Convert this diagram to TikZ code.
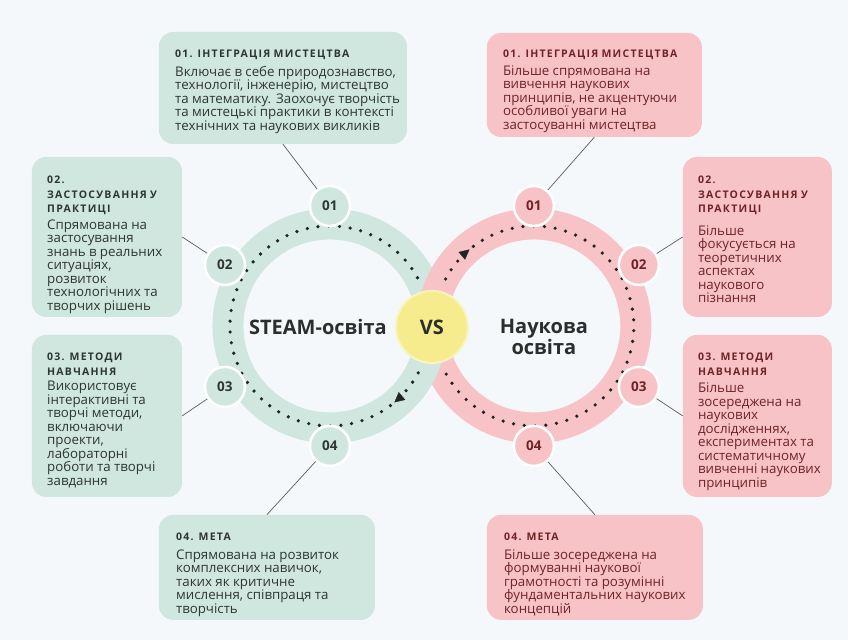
\documentclass[tikz,border=0pt]{standalone}
\usepackage{fontspec}
\setmainfont{Open Sans}
\usetikzlibrary{arrows.meta,decorations.markings}

\definecolor{bgcol}{HTML}{F4F8FA}
\definecolor{mint}{HTML}{CFE7DE}
\definecolor{rose}{HTML}{F8C3C6}
\definecolor{mintink}{HTML}{2E3532}
\definecolor{roseink}{HTML}{6E2328}
\definecolor{titleink}{HTML}{2A2F2D}
\definecolor{sun}{HTML}{F6EC8D}
\definecolor{sunrim}{HTML}{FAF4BE}
\definecolor{linkgray}{HTML}{5C5C5C}
\definecolor{dotcol}{HTML}{1F2523}

\newcommand{\hdr}{\fontsize{10.5}{14.5}\selectfont\bfseries\addfontfeature{LetterSpace=12}}
\newcommand{\bdy}{\fontsize{13.3}{13.5}\selectfont}
\newcommand{\cardtext}[3][6pt]{{\hdr #2\par}\vspace{#1}{\bdy #3\par}}

\begin{document}
\begin{tikzpicture}[x=1pt,y=-1pt,
  gbox/.style={rectangle, rounded corners=14pt, fill=mint, inner sep=0pt},
  pbox/.style={rectangle, rounded corners=14pt, fill=rose, inner sep=0pt},
  gtxt/.style={anchor=base west, inner sep=0pt, align=left, text=mintink},
  ptxt/.style={anchor=base west, inner sep=0pt, align=left, text=roseink},
  gbadge/.style={circle, minimum size=40pt, inner sep=0pt, fill=mint, draw=white, line width=2.5pt, text=mintink, font=\fontsize{13.5}{13.5}\selectfont\bfseries},
  pbadge/.style={gbadge, fill=rose, text=roseink},
  link/.style={draw=linkgray, line width=0.7pt},
  dots/.style={dotcol, line width=3.6pt, line cap=round, dash pattern=on 0pt off 10.8pt},
  tip/.style={decorate, decoration={markings, mark=at position 0.072 with {\arrow[dotcol]{Triangle[length=10pt,width=10pt]}}}},
  title/.style={text=titleink, font=\fontsize{20}{21}\selectfont\bfseries}]

\path[fill=bgcol] (0,0) rectangle (848,640);

\coordinate (lc) at (330,326);
\coordinate (rc) at (534,326);

% rings
\draw[mint, line width=31pt] (lc) circle[radius=102];
\draw[rose, line width=31pt] (rc) circle[radius=102];
\draw[mint, line width=31pt] (lc) ++(10:102) arc[start angle=10, end angle=40, radius=102];

\draw[dots] (lc) ++(28:100) arc[start angle=28, end angle=332, radius=100];
\path[tip] (lc) ++(28:100) arc[start angle=28, end angle=332, radius=100];
\draw[dots] (rc) ++(-152:100) arc[start angle=-152, end angle=152, radius=100];
\path[tip] (rc) ++(-152:100) arc[start angle=-152, end angle=152, radius=100];

\node[gbadge] (gb1) at (330,206) {01};
\node[gbadge] (gb2) at (225,265) {02};
\node[gbadge] (gb3) at (225,387) {03};
\node[gbadge] (gb4) at (330,446) {04};
\node[pbadge] (pb1) at (534,206) {01};
\node[pbadge] (pb2) at (639,265) {02};
\node[pbadge] (pb3) at (639,387) {03};
\node[pbadge] (pb4) at (534,446) {04};

\node[circle, minimum size=72pt, fill=sun, draw=sunrim, line width=2pt, text=titleink, font=\fontsize{20}{20}\selectfont\bfseries] (vs) at (432,327) {VS};

\node[title] (steam) at (318,327) {STEAM-освіта};
\node[title, align=center] (nauk) at (544,337) {Наукова\\освіта};

% cards
\node[gbox, minimum width=248, minimum height=112] (g1) at (283,88) {};
\node[pbox, minimum width=215, minimum height=104] (p1) at (594.5,85) {};
\node[gbox, minimum width=150, minimum height=160] (g2) at (107,237) {};
\node[pbox, minimum width=149, minimum height=160] (p2) at (757.5,237) {};
\node[gbox, minimum width=150, minimum height=162] (g3) at (107,416) {};
\node[pbox, minimum width=149, minimum height=162] (p3) at (757.5,416) {};
\node[gbox, minimum width=216, minimum height=105] (g4) at (267,567.5) {};
\node[pbox, minimum width=216, minimum height=105] (p4) at (595,567.5) {};

\node[gtxt, text width=240] (g1t) at (175,58) {\cardtext[5pt]{01. ІНТЕГРАЦІЯ МИСТЕЦТВА}{Включає в себе природознавство,\\технології, інженерію, мистецтво\\та математику. Заохочує творчість\\та мистецькі практики в контексті\\технічних та наукових викликів}};
\node[ptxt, text width=200] (p1t) at (503,58) {\cardtext[4pt]{01. ІНТЕГРАЦІЯ МИСТЕЦТВА}{Більше спрямована на\\вивчення наукових\\принципів, не акцентуючи\\особливої уваги на\\застосуванні мистецтва}};
\node[gtxt, text width=150] (g2t) at (47,184) {\cardtext[3pt]{02.\\ЗАСТОСУВАННЯ У\\ПРАКТИЦІ}{Спрямована на\\застосування\\знань в реальних\\ситуаціях,\\розвиток\\технологічних та\\творчих рішень}};
\node[ptxt, text width=150] (p2t) at (698,184) {\cardtext[9pt]{02.\\ЗАСТОСУВАННЯ У\\ПРАКТИЦІ}{Більше\\фокусується на\\теоретичних\\аспектах\\наукового\\пізнання}};
\node[gtxt, text width=150] (g3t) at (47,361) {\cardtext[2pt]{03. МЕТОДИ\\НАВЧАННЯ}{Використовує\\інтерактивні та\\творчі методи,\\включаючи\\проекти,\\лабораторні\\роботи та творчі\\завдання}};
\node[ptxt, text width=150] (p3t) at (698,361) {\cardtext[4pt]{03. МЕТОДИ\\НАВЧАННЯ}{Більше\\зосереджена на\\наукових\\дослідженнях,\\експериментах та\\систематичному\\вивченні наукових\\принципів}};
\node[gtxt, text width=220] (g4t) at (176,541) {\cardtext[5pt]{04. МЕТА}{Спрямована на розвиток\\комплексних навичок,\\таких як критичне\\мислення, співпраця та\\творчість}};
\node[ptxt, text width=220] (p4t) at (504,541) {\cardtext[5pt]{04. МЕТА}{Більше зосереджена на\\формуванні наукової\\грамотності та розумінні\\фундаментальних наукових\\концепцій}};

% connectors
\draw[link] (gb1) -- (g1.south);
\draw[link] (gb2) -- (g2.east);
\draw[link] (gb3) -- (g3.east);
\draw[link] (gb4) -- (g4.north);
\draw[link] (pb1) -- (p1.south);
\draw[link] (pb2) -- (p2.west);
\draw[link] (pb3) -- (p3.west);
\draw[link] (pb4) -- (p4.north);
\end{tikzpicture}
\end{document}
